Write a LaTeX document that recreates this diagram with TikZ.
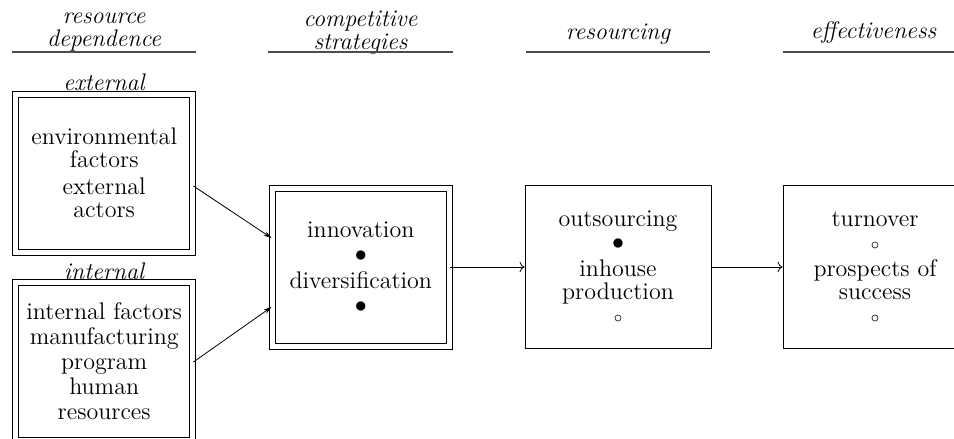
\documentclass[tikz,border=0pt]{standalone}
\usetikzlibrary{arrows.meta}
\begin{document}
\begin{tikzpicture}[x=0.5pt,y=-0.5pt,
	txt/.style={align=center,font=\fontsize{12}{11.5}\selectfont},
	head/.style={align=center,font=\fontsize{12}{11.5}\selectfont\itshape},
	dbox/.style={txt,draw=black,line width=0.5pt,double,double distance=2.5pt,minimum width=88.7pt,minimum height=79pt,inner sep=0pt},
	sbox/.style={txt,draw=black,line width=0.5pt,minimum width=93pt,minimum height=81.5pt,inner sep=0pt},
	rule/.style={draw=black!70,line width=0.6pt},
	arr/.style={-{Stealth[length=4pt,width=2.4pt]},line width=0.4pt}]
	\useasboundingbox (0,0) rectangle (954,439);
	% column heads
	\node[head] (hdep) at (104,32.5) {resource\\dependence};
	\node[head] (hstr) at (360.5,32.5) {competitive\\strategies};
	\node[head] (hres) at (618,34) {resourcing};
	\node[head] (heff) at (873.5,33) {effectiveness};
	\draw[rule] (12,52) -- (196,52);
	\draw[rule] (268,52) -- (453,52);
	\draw[rule] (526,52) -- (710,52);
	\draw[rule] (783,52) -- (970,52);
	% resource dependence
	\node[head] (lext) at (104,82) {external};
	\node[dbox] (ext) at (104.2,173) {environmental\\factors\\[2pt]external\\actors};
	\node[head] (lint) at (104,271) {internal};
	\node[dbox,font=\fontsize{12}{12.5}\selectfont] (int) at (104.2,361) {internal factors\\manufacturing\\program\\human\\resources};
	% strategies
	\node[dbox,font=\fontsize{12}{12}\selectfont] (comp) at (360.75,267) {innovation\\$\bullet$\\[1.5pt]diversification\\$\bullet$};
	\draw[arr] ([yshift=-6.5pt]ext.east) -- ([yshift=14.5pt]comp.west);
	\draw[arr] ([yshift=-0.5pt]int.east) -- ([yshift=-20pt]comp.west);
	% resourcing and effectiveness
	\node[sbox] (res) at (618,267) {outsourcing\\$\bullet$\\[2pt]inhouse\\production\\$\scriptstyle\circ$}
		edge[arr,<-] (comp);
	\node[sbox,minimum width=92pt] (eff) at (875,267) {turnover\\$\scriptstyle\circ$\\[2pt]prospects of\\success\\$\scriptstyle\circ$}
		edge[arr,<-] (res);
\end{tikzpicture}
\end{document}
